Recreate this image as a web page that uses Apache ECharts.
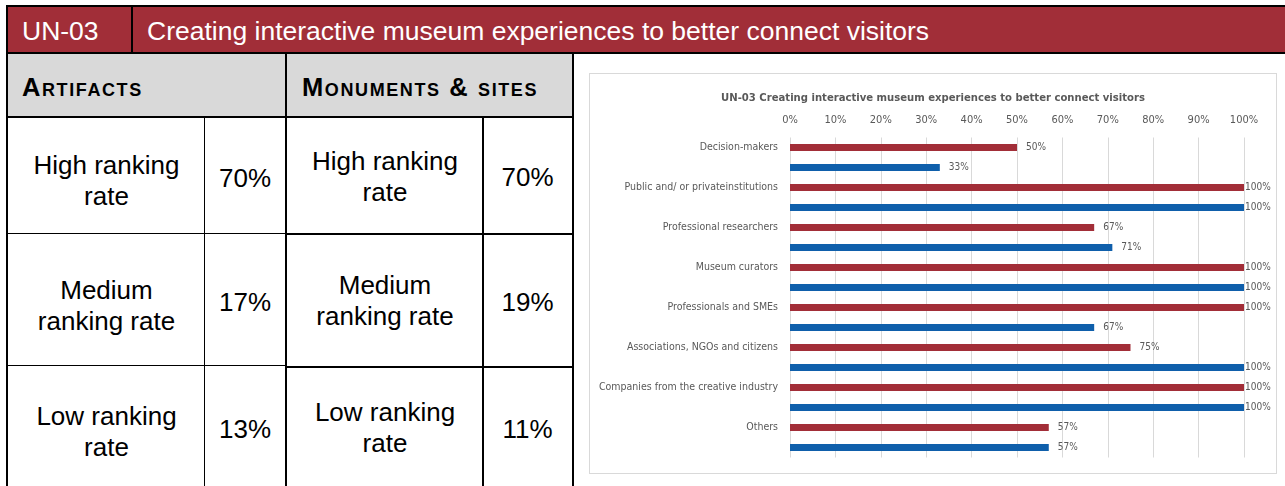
<!DOCTYPE html>
<html>
<head>
<meta charset="utf-8">
<title>UN-03 Creating interactive museum experiences to better connect visitors</title>
<script src="https://cdn.jsdelivr.net/npm/echarts@6/dist/echarts.min.js"></script>
<style>
  html, body { margin: 0; padding: 0; background: #fff; width: 1285px; height: 486px; overflow: hidden;
    font-family: 'Liberation Sans', Arial, sans-serif; }
  .ln { position: absolute; background: #000; }
  .fill { position: absolute; }
  .txt { position: absolute; display: flex; align-items: center; justify-content: center; text-align: center; color: #000; }
  .head { position: absolute; color: #fff; font-size: 26.5px; line-height: 1; }
  .sect { position: absolute; font-weight: bold; font-variant: small-caps; font-size: 25.5px; letter-spacing: 1.6px; line-height: 1; color: #000; }
  #chart { position: absolute; left: 589px; top: 73px; width: 686px; height: 399px; border: 1px solid #d9d9d9; }
</style>
</head>
<body>
<div id="board"></div>
<div id="chart"></div>
<script>
// Header and ranking table text
const sheetCode = 'UN-03';
const sheetTitle = 'Creating interactive museum experiences to better connect visitors';
const sectionNames = ['Artifacts', 'Monuments & sites'];
const rankLabels = [['High ranking', 'rate'], ['Medium', 'ranking rate'], ['Low ranking', 'rate']];
const artifactsRates = ['70%', '17%', '13%'];
const monumentsRates = ['70%', '19%', '11%'];

// Bar chart data
const chartTitle = 'UN-03 Creating interactive museum experiences to better connect visitors';
const stakeholders = [
  'Decision-makers',
  'Public and/ or privateinstitutions',
  'Professional researchers',
  'Museum curators',
  'Professionals and SMEs',
  'Associations, NGOs and citizens',
  'Companies from the creative industry',
  'Others'
];
const artifactsShare = [50, 100, 67, 100, 100, 75, 100, 57];
const monumentsShare = [33, 100, 71, 100, 67, 100, 100, 57];
const xTickValues = [0, 10, 20, 30, 40, 50, 60, 70, 80, 90, 100];

const RED = '#a22e38';
const BLUE = '#0f5fab';
const GREY_TEXT = '#595959';
const NARROW = "'Liberation Sans Narrow', 'Arial Narrow', 'DejaVu Sans Condensed', sans-serif";

// ---- table drawn with plain DOM boxes ----
const board = document.getElementById('board');
function box(cls, l, t, w, h, css) {
  const d = document.createElement('div');
  d.className = cls;
  Object.assign(d.style, { left: l + 'px', top: t + 'px', width: w + 'px', height: h + 'px' }, css || {});
  board.appendChild(d);
  return d;
}
// fills
box('fill', 6, 5, 1290, 49, { background: '#a12e38' });
box('fill', 8, 54, 564, 62, { background: '#d9d9d9' });
// header text
const hc = box('head', 22, 18, 110, 28); hc.textContent = sheetCode;
const ht = box('head', 147, 18, 1100, 28); ht.textContent = sheetTitle;
// section titles
const s1 = box('sect', 22, 75, 260, 28); s1.textContent = sectionNames[0];
const s2 = box('sect', 302, 75, 270, 28); s2.textContent = sectionNames[1];

// rows: [top, bottom] per table, text offset
const leftRows = [[118, 233], [234, 365], [366, 486]];
const rightRows = [[118, 233], [235, 366], [368, 486]];
const leftShift = [5, 6, 5.5], rightShift = [1, 0.5, 0.5];
const leftRateShift = [2.5, 2.5, 3], rightRateShift = [1.5, 1.5, 2];
function rateTable(x0, xMid, x1, rows, rates, shift, rshift) {
  rows.forEach((r, i) => {
    const lab = box('txt', x0, r[0], xMid - x0, r[1] - r[0], { fontSize: '26px', lineHeight: '31px' });
    lab.innerHTML = '<span style="position:relative;top:' + shift[i] + 'px">' +
      rankLabels[i].join('<br>') + '</span>';
    const val = box('txt', xMid, r[0], x1 - xMid, r[1] - r[0], { fontSize: '26px' });
    val.innerHTML = '<span style="position:relative;top:' + rshift[i] + 'px">' + rates[i] + '</span>';
  });
}
rateTable(8, 205, 285, leftRows, artifactsRates, leftShift, leftRateShift);
rateTable(287, 483, 572, rightRows, monumentsRates, rightShift, rightRateShift);

// grid lines
box('ln', 6, 5, 1290, 2);
box('ln', 6, 52, 1290, 2);
box('ln', 6, 5, 2, 490);
box('ln', 131, 5, 2, 49);
box('ln', 6, 116, 568, 2);
box('ln', 285, 52, 2, 440);
box('ln', 572, 52, 2, 440);
box('ln', 204, 117, 1, 380);
box('ln', 482, 117, 2, 380);
box('ln', 6, 233, 280, 1);
box('ln', 6, 365, 280, 1);
box('ln', 286, 233, 288, 2);
box('ln', 286, 366, 288, 2);

// ---- bar chart ----
const chart = echarts.init(document.getElementById('chart'), null, { renderer: 'canvas' });
function barData(values) {
  return values.map(v => ({
    value: v,
    label: { distance: v >= 100 ? 1 : 9 }
  }));
}
const labelStyle = {
  show: true,
  position: 'right',
  formatter: p => p.value + '%',
  color: GREY_TEXT,
  fontSize: 10,
  fontFamily: NARROW
};
chart.setOption({
  animation: false,
  title: {
    text: chartTitle,
    left: 'center',
    top: 14,
    textStyle: { fontSize: 11.2, fontWeight: 'bold', color: GREY_TEXT, fontFamily: NARROW }
  },
  grid: { left: 200, right: 32, top: 63.5, bottom: 15.5, containLabel: false, outerBoundsMode: 'none' },
  xAxis: {
    type: 'value',
    position: 'top',
    min: xTickValues[0],
    max: xTickValues[xTickValues.length - 1],
    interval: xTickValues[1] - xTickValues[0],
    axisLine: { show: false },
    axisTick: { show: false },
    splitLine: { show: true, lineStyle: { color: '#d9d9d9', width: 1 } },
    axisLabel: { formatter: '{value}%', color: GREY_TEXT, fontSize: 11, fontFamily: NARROW, margin: 12 }
  },
  yAxis: {
    type: 'category',
    inverse: true,
    data: stakeholders,
    axisLine: { show: false },
    axisTick: { show: false },
    axisLabel: {
      // second blank line lifts each name level with the upper (red) bar
      formatter: v => v + '\n ',
      lineHeight: 20,
      color: GREY_TEXT, fontSize: 10.5, fontFamily: NARROW, margin: 12
    }
  },
  series: [
    {
      name: sectionNames[0],
      type: 'bar',
      data: barData(artifactsShare),
      barWidth: 7,
      barGap: '186%',
      itemStyle: { color: RED },
      label: labelStyle
    },
    {
      name: sectionNames[1],
      type: 'bar',
      data: barData(monumentsShare),
      barWidth: 7,
      itemStyle: { color: BLUE },
      label: labelStyle
    }
  ]
});
</script>
</body>
</html>
